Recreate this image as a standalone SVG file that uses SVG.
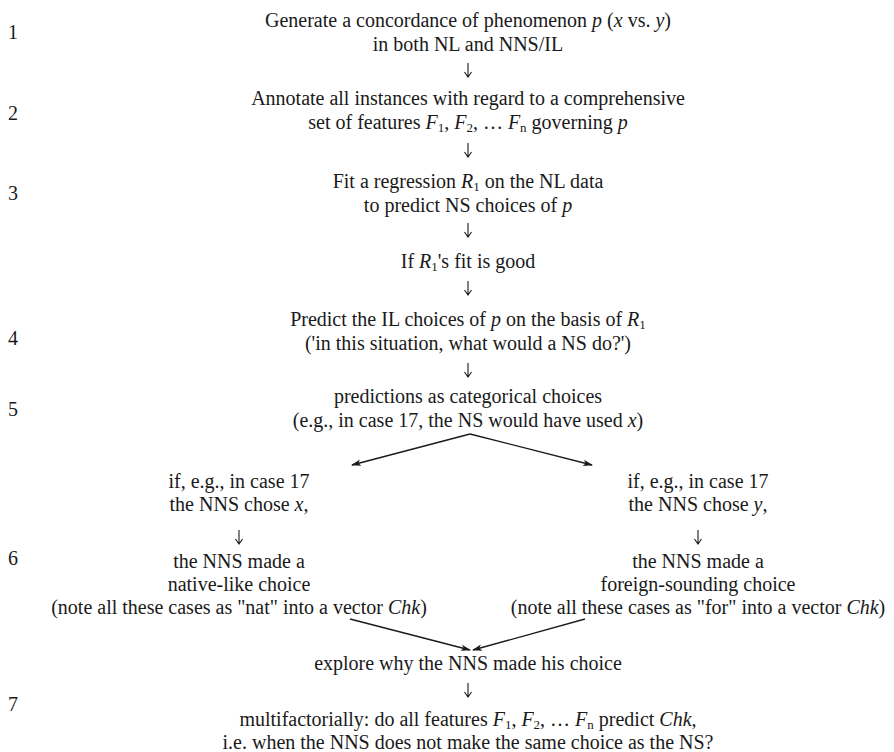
<svg xmlns="http://www.w3.org/2000/svg" width="894" height="752" viewBox="0 0 894 752">
<style>
text{font-family:"Liberation Serif","Times New Roman",serif;font-size:20px;fill:#1a1a1a}
.c{text-anchor:middle}
.i{font-style:italic}
.s{font-size:13px}
.arr{stroke:#1a1a1a;stroke-width:1.3;fill:none}
.dn{stroke:#1a1a1a;stroke-width:1.1;fill:none}
</style>
<defs>
<marker id="ah" markerWidth="10" markerHeight="8" refX="9" refY="4" orient="auto" markerUnits="userSpaceOnUse">
<path d="M0,0.8 L10,4 L0,7.2 L2.5,4 Z" fill="#1a1a1a"/>
</marker>
<path id="down" d="M0,0 V14 M-3.5,9 L0,14 L3.5,9"/>
</defs>
<rect width="894" height="752" fill="#fff"/>
<g id="numbers">
<text x="8" y="39">1</text>
<text x="8" y="120">2</text>
<text x="8" y="200">3</text>
<text x="8" y="345">4</text>
<text x="8" y="416">5</text>
<text x="8" y="565">6</text>
<text x="8" y="711">7</text>
</g>
<g id="n1">
<text class="c" x="468" y="27">Generate a concordance of phenomenon <tspan class="i">p</tspan> (<tspan class="i">x</tspan> vs. <tspan class="i">y</tspan>)</text>
<text class="c" x="468" y="51">in both NL and NNS/IL</text>
</g>
<g id="n2">
<text class="c" x="468" y="105">Annotate all instances with regard to a comprehensive</text>
<text class="c" x="468" y="129">set of features <tspan class="i">F</tspan><tspan class="s" dy="3">1</tspan><tspan dy="-3">, </tspan><tspan class="i">F</tspan><tspan class="s" dy="3">2</tspan><tspan dy="-3">, … </tspan><tspan class="i">F</tspan><tspan class="s" dy="3">n</tspan><tspan dy="-3"> governing </tspan><tspan class="i">p</tspan></text>
</g>
<g id="n3">
<text class="c" x="468" y="188">Fit a regression <tspan class="i">R</tspan><tspan class="s" dy="3">1</tspan><tspan dy="-3"> on the NL data</tspan></text>
<text class="c" x="468" y="212">to predict NS choices of <tspan class="i">p</tspan></text>
</g>
<g id="n3b">
<text class="c" x="468" y="268">If <tspan class="i">R</tspan><tspan class="s" dy="3">1</tspan><tspan dy="-3">'s fit is good</tspan></text>
</g>
<g id="n4">
<text class="c" x="468" y="326">Predict the IL choices of <tspan class="i">p</tspan> on the basis of <tspan class="i">R</tspan><tspan class="s" dy="3">1</tspan></text>
<text class="c" x="468" y="350">('in this situation, what would a NS do?')</text>
</g>
<g id="n5">
<text class="c" x="468" y="403">predictions as categorical choices</text>
<text class="c" x="468" y="427">(e.g., in case 17, the NS would have used <tspan class="i">x</tspan>)</text>
</g>
<g id="n6a">
<text class="c" x="239" y="488">if, e.g., in case 17</text>
<text class="c" x="239" y="511">the NNS chose <tspan class="i">x</tspan>,</text>
</g>
<g id="n6b">
<text class="c" x="239" y="568">the NNS made a</text>
<text class="c" x="239" y="591">native-like choice</text>
<text class="c" x="239" y="614">(note all these cases as "nat" into a vector <tspan class="i">Chk</tspan>)</text>
</g>
<g id="n6c">
<text class="c" x="698" y="488">if, e.g., in case 17</text>
<text class="c" x="698" y="511">the NNS chose <tspan class="i">y</tspan>,</text>
</g>
<g id="n6d">
<text class="c" x="698" y="568">the NNS made a</text>
<text class="c" x="698" y="591">foreign-sounding choice</text>
<text class="c" x="698" y="614">(note all these cases as "for" into a vector <tspan class="i">Chk</tspan>)</text>
</g>
<g id="n7">
<text class="c" x="468" y="670">explore why the NNS made his choice</text>
</g>
<g id="n8">
<text class="c" x="468" y="726">multifactorially: do all features <tspan class="i">F</tspan><tspan class="s" dy="3">1</tspan><tspan dy="-3">, </tspan><tspan class="i">F</tspan><tspan class="s" dy="3">2</tspan><tspan dy="-3">, … </tspan><tspan class="i">F</tspan><tspan class="s" dy="3">n</tspan><tspan dy="-3"> predict </tspan><tspan class="i">Chk</tspan>,</text>
<text class="c" x="468" y="749">i.e. when the NNS does not make the same choice as the NS?</text>
</g>
<g id="connectors">
<use href="#down" class="dn" x="468" y="63"/>
<use href="#down" class="dn" x="468" y="143"/>
<use href="#down" class="dn" x="468" y="223"/>
<use href="#down" class="dn" x="468" y="281"/>
<use href="#down" class="dn" x="468" y="363"/>
<use href="#down" class="dn" x="239" y="530"/>
<use href="#down" class="dn" x="698" y="530"/>
<use href="#down" class="dn" x="468" y="683"/>
<path class="arr" d="M470,434 L352,465" marker-end="url(#ah)"/>
<path class="arr" d="M470,434 L592,465" marker-end="url(#ah)"/>
<path class="arr" d="M350,619 L470,650" marker-end="url(#ah)"/>
<path class="arr" d="M585,619 L473,650" marker-end="url(#ah)"/>
</g>
</svg>
